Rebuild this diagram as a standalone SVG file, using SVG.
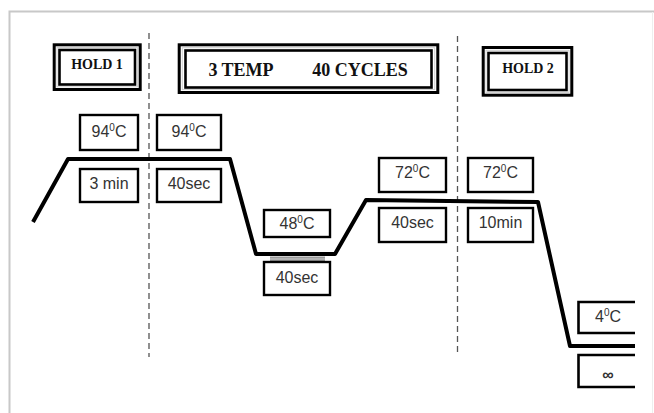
<svg xmlns="http://www.w3.org/2000/svg" width="654" height="413" viewBox="0 0 654 413">
<defs>
<style>
.frame{fill:none;stroke:#c8c8c8;stroke-width:2}
.dash{stroke:#555;stroke-width:1.3;stroke-dasharray:6 4;fill:none}
.outer{fill:#fff;stroke:#000;stroke-width:3}
.gap{fill:none;stroke:#d0d0d0;stroke-width:1}
.inner{fill:#fff;stroke:#000;stroke-width:2.6}
.title{font-family:"Liberation Serif","Times New Roman",serif;font-weight:bold;fill:#111;text-anchor:middle}
.box{fill:#fff;stroke:#000;stroke-width:2.4}
.open{fill:none;stroke:#000;stroke-width:2.6}
.lbl{font-family:"Liberation Sans",Arial,sans-serif;font-size:16px;fill:#333;text-anchor:middle}
.sup{font-size:10px}
.trace{fill:none;stroke:#000;stroke-width:4;stroke-linejoin:round}
</style>
</defs>
<rect width="654" height="413" fill="#fff"/>
<path class="frame" d="M9.5,413 V11.5 H654"/>
<line x1="652.5" y1="12" x2="652.5" y2="413" stroke="#eee" stroke-width="1"/>

<g id="connectors">
<line class="dash" x1="149" y1="33" x2="149" y2="357"/>
<line class="dash" x1="457.5" y1="36" x2="457.5" y2="355"/>
<path class="trace" d="M33,222 L68,159 L230,159 L256,254 L335,254 L366,200 L538,202 L570,346 L635,346"/>
<rect x="270" y="256.5" width="55" height="5" fill="#999"/>
<line x1="270" y1="259" x2="325" y2="259" stroke="#ccc" stroke-width="1"/>
</g>

<g id="hold1">
<rect class="outer" x="54.2" y="44.8" width="86" height="44.7"/>
<rect class="gap" x="57" y="47.5" width="80.4" height="39.3"/>
<rect class="inner" x="59.5" y="50" width="75.5" height="34.5"/>
<text class="title" x="97" y="68.5" font-size="14">HOLD 1</text>
</g>

<g id="cycles">
<rect class="outer" x="179.2" y="44.8" width="258.6" height="47.7"/>
<rect class="gap" x="182.3" y="47.7" width="252.4" height="41.9"/>
<rect class="inner" x="185.5" y="50.5" width="246" height="37"/>
<text class="title" x="241" y="76" font-size="18">3 TEMP</text>
<text class="title" x="360" y="76" font-size="18">40 CYCLES</text>
</g>

<g id="hold2">
<rect class="outer" x="483.2" y="47.5" width="88.6" height="47.7"/>
<rect class="gap" x="486" y="50.3" width="83" height="42.1"/>
<rect class="inner" x="488.5" y="53" width="78" height="37"/>
<text class="title" x="528" y="73" font-size="14">HOLD 2</text>
</g>

<g id="t94a">
<rect class="box" x="80" y="115" width="58" height="35"/>
<text class="lbl" x="109" y="137">94<tspan class="sup" dy="-6">0</tspan><tspan dy="6">C</tspan></text>
</g>
<g id="t94b">
<rect class="box" x="157" y="115" width="64" height="35"/>
<text class="lbl" x="189" y="137">94<tspan class="sup" dy="-6">0</tspan><tspan dy="6">C</tspan></text>
</g>
<g id="d3min">
<rect class="box" x="80" y="169" width="58" height="33"/>
<text class="lbl" x="109" y="189">3 min</text>
</g>
<g id="d40a">
<rect class="box" x="157" y="169" width="64" height="33"/>
<text class="lbl" x="189" y="189">40sec</text>
</g>
<g id="t48">
<rect class="box" x="264" y="210" width="66" height="27"/>
<text class="lbl" x="297" y="229">48<tspan class="sup" dy="-6">0</tspan><tspan dy="6">C</tspan></text>
</g>
<g id="d40b">
<rect class="box" x="264" y="262" width="66" height="33"/>
<text class="lbl" x="297" y="283">40sec</text>
</g>
<g id="t72a">
<rect class="box" x="379" y="158" width="67" height="34"/>
<text class="lbl" x="412.5" y="178">72<tspan class="sup" dy="-6">0</tspan><tspan dy="6">C</tspan></text>
</g>
<g id="d40c">
<rect class="box" x="379" y="208" width="67" height="34"/>
<text class="lbl" x="412.5" y="228">40sec</text>
</g>
<g id="t72b">
<rect class="box" x="468" y="158" width="65" height="34"/>
<text class="lbl" x="500.5" y="178">72<tspan class="sup" dy="-6">0</tspan><tspan dy="6">C</tspan></text>
</g>
<g id="d10min">
<rect class="box" x="468" y="208" width="65" height="34"/>
<text class="lbl" x="500.5" y="228">10min</text>
</g>
<g id="t4">
<path class="open" d="M635,302 H578.5 V333 H635"/>
<text class="lbl" x="608" y="322">4<tspan class="sup" dy="-6">0</tspan><tspan dy="6">C</tspan></text>
</g>
<g id="dinf">
<path class="open" d="M635,355 H578.5 V387 H635"/>
<text class="lbl" x="608" y="380" font-size="22" font-weight="bold" fill="#222">∞</text>
</g>
</svg>
